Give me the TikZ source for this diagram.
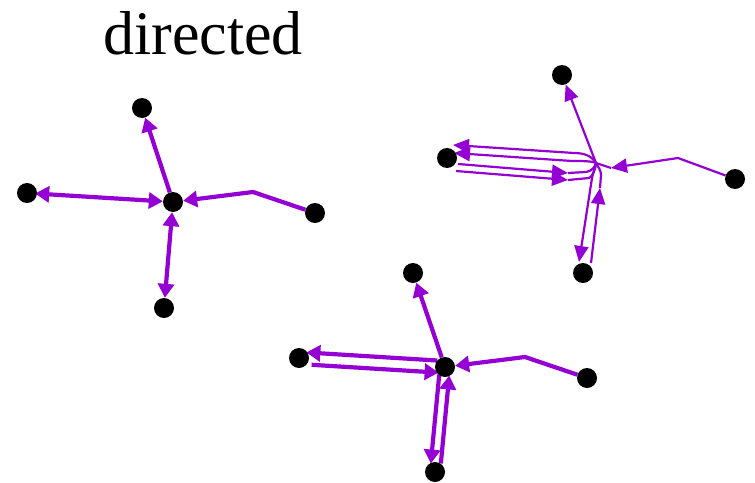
\documentclass[tikz,border=0pt]{standalone}
\usepackage{fontspec}
\setmainfont{Liberation Serif}
\newfontfamily\captionface{Liberation Serif}
\usetikzlibrary{arrows.meta,calc,backgrounds}
\definecolor{edgeviolet}{RGB}{148,0,211}
\tikzset{
  vertex/.style={circle,fill=black,inner sep=0pt,minimum size=20pt},
  boldtip/.tip={Triangle[length=14pt 0 0,width=16pt 0 0]},
  finetip/.tip={Triangle[length=16pt 0 0,width=14pt 0 0]},
  boldline/.style={draw=edgeviolet,line width=4.2pt},
  boldarc/.style={boldline,-boldtip},
  boldboth/.style={boldline,boldtip-boldtip},
  fineline/.style={draw=edgeviolet,line width=2.2pt},
  finearc/.style={fineline,-finetip},
}
\begin{document}
\begin{tikzpicture}[x=1pt,y=-1pt]
\useasboundingbox (0,0) rectangle (755,482);

% caption
\node[anchor=base,font=\captionface\fontsize{62}{70}\selectfont,inner sep=0pt] (title) at (203,54) {directed};

% ---------- single edges, bidirected as one line ----------
\node[vertex] (c1) at (173,202) {};
\node[vertex] (t1) at (142,108) {};
\node[vertex] (l1) at (27,193) {};
\node[vertex] (b1) at (164,308) {};
\node[vertex] (r1) at (315,213) {};
\coordinate (k1) at (253,192);

% ---------- bidirected as two parallel arcs ----------
\node[vertex] (c2) at (445,367) {};
\node[vertex] (t2) at (413,273) {};
\node[vertex] (l2) at (299,358) {};
\node[vertex] (b2) at (435,472) {};
\node[vertex] (r2) at (587,378) {};
\coordinate (k2) at (525,357);

% ---------- thin arcs bundled into a hidden hub ----------
\node[vertex] (t3) at (562,75) {};
\node[vertex] (l3) at (447,158) {};
\node[vertex] (r3) at (735,179) {};
\node[vertex] (b3) at (583,273) {};
\coordinate (c3) at (596,163);
\coordinate (k3) at (678,158);

\begin{scope}[on background layer]
  % first graph
  \draw[boldarc] (c1) -- (t1);
  \draw[boldboth,shorten >=-2pt] (c1) -- (l1);
  \draw[boldboth] (c1) -- (b1);
  \draw[boldarc] (r1) -- (k1) -- (c1);

  % second graph
  \draw[boldarc] (c2) -- (t2);
  \draw[boldarc,shorten <=8pt,shorten >=7pt]
    ($(c2)!6pt!-90:(l2)$) -- ($(l2)!6pt!90:(c2)$);
  \draw[boldarc,shorten <=13pt,shorten >=6pt]
    ($(l2)!6pt!-90:(c2)$) -- ($(c2)!6pt!90:(l2)$);
  \draw[boldarc,shorten <=8pt,shorten >=8pt]
    ($(c2)!5pt!-90:(b2)$) -- ($(b2)!5pt!90:(c2)$);
  \draw[boldarc,shorten <=9pt,shorten >=8pt]
    ($(b2)!5pt!-90:(c2)$) -- ($(c2)!5pt!90:(b2)$);
  \draw[boldarc] (r2) -- (k2) -- (c2);

  % third graph
  \draw[finearc] (c3) -- (t3);
  \draw[finearc] (c3) .. controls +(-5,-8) and +(9,0) .. ($(c3)+(-22,-10)$)
    -- ($(l3)+(6,-13)$);
  \draw[finearc] (c3) .. controls +(-3,-2) and +(9,0) .. ($(c3)+(-24,-2)$)
    -- ($(l3)+(7,-5)$);
  \draw[finearc] ($(l3)+(11,6)$) -- ($(c3)+(-28,10)$);
  \draw[fineline] ($(c3)+(-28,10)$) -- ($(c3)+(-10,9)$)
    .. controls +(6,-1) and +(-1,4) .. (c3);
  \draw[finearc] ($(l3)+(9,13)$) -- ($(c3)+(-28,17)$);
  \draw[fineline] ($(c3)+(-28,17)$) -- ($(c3)+(-7,15)$)
    .. controls +(3,-1) and +(0,6) .. (c3);
  \draw[finearc] (c3) .. controls +(-1,5) and +(1,-5) .. ($(c3)+(-4,15)$)
    -- ($(b3)+(-4,-11)$);
  \draw[finearc] ($(b3)+(8,-10)$) -- ($(c3)+(4,25)$);
  \draw[fineline] ($(c3)+(4,25)$) -- ($(c3)+(5,12)$)
    .. controls +(0,-5) and +(2,4) .. (c3);
  \draw[finearc] (r3) -- (k3) -- ($(c3)+(15,5)$);
  \draw[fineline] ($(c3)+(15,5)$) -- (c3);
\end{scope}
\end{tikzpicture}
\end{document}
